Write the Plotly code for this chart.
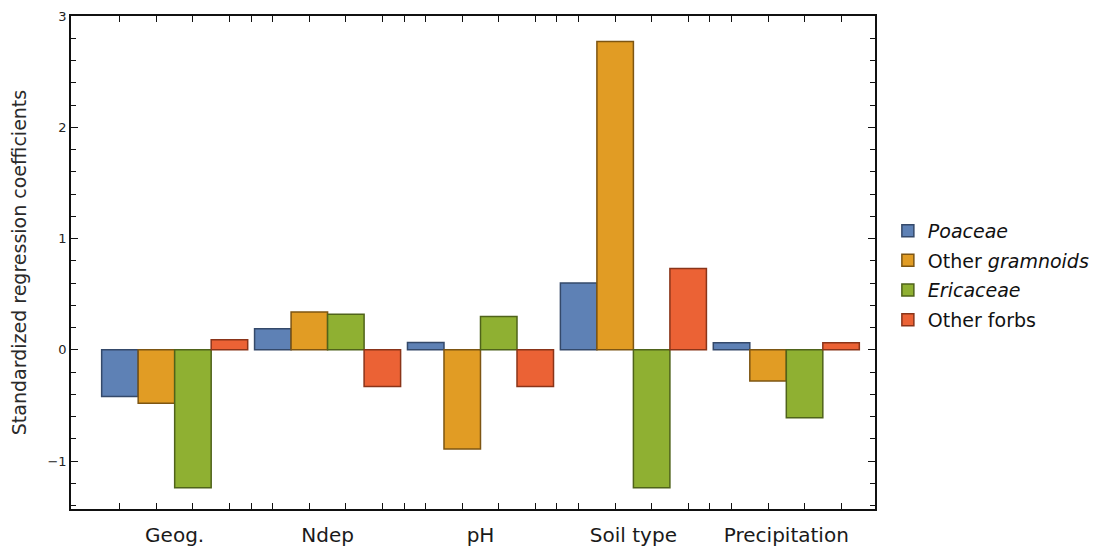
import plotly.graph_objects as go

categories = ["Geog.", "Ndep", "pH", "Soil type", "Precipitation"]
poaceae = [-0.42, 0.19, 0.066, 0.60, 0.063]
other_graminoids = [-0.48, 0.34, -0.89, 2.77, -0.28]
ericaceae = [-1.24, 0.32, 0.30, -1.24, -0.61]
other_forbs = [0.09, -0.33, -0.33, 0.73, 0.063]

series_names = ["<i>Poaceae</i>", "Other <i>gramnoids</i>", "<i>Ericaceae</i>", "Other forbs"]
series_values = [poaceae, other_graminoids, ericaceae, other_forbs]
fill_colors = ["#5E81B5", "#E19C24", "#8FB032", "#EB6235"]
edge_colors = ["#34496a", "#7d5512", "#4f631a", "#8a3419"]

bargap = 0.045
font_family = "DejaVu Sans, Liberation Sans, Arial, sans-serif"

fig = go.Figure()
for i, (name, vals) in enumerate(zip(series_names, series_values)):
    fig.add_trace(go.Bar(
        x=categories, y=vals, name=name,
        marker=dict(color=fill_colors[i], line=dict(color=edge_colors[i], width=1.5)),
        legendgroup=f"g{i}",
    ))

# tick positions for the overlay axis: bar centres and group boundaries
n_series = len(series_values)
w = (1 - bargap) / n_series
tickpos = []
for g in range(len(categories)):
    for k in range(n_series):
        tickpos.append(g + (k - (n_series - 1) / 2) * w)
    if g < len(categories) - 1:
        tickpos.append(g + 0.5)

fig.add_trace(go.Scatter(x=[None], y=[None], xaxis="x2", showlegend=False, hoverinfo="skip"))

xrange = [-0.678, 4.58]

fig.update_layout(
    width=1091, height=542,
    margin=dict(l=63, r=224, t=8, b=41, autoexpand=False),
    plot_bgcolor="white", paper_bgcolor="white",
    barmode="group", bargap=bargap, bargroupgap=0,
    font=dict(family=font_family, color="#222"),
    xaxis=dict(
        type="category", range=xrange, automargin=False,
        showline=True, mirror=True, linecolor="#111", linewidth=1.5,
        ticks="", showgrid=False, zeroline=False,
        tickfont=dict(size=20, color="#1a1a1a"),
        ticklabelstandoff=7,
    ),
    xaxis2=dict(
        type="linear", overlaying="x", side="bottom", range=xrange, automargin=False,
        tickvals=tickpos, showticklabels=False,
        ticks="inside", ticklen=6, tickwidth=1.2, tickcolor="#111",
        mirror="ticks", showline=False, showgrid=False, zeroline=False,
    ),
    yaxis=dict(
        range=[-1.43, 3.0], automargin=False,
        tickvals=[-1, 0, 1, 2, 3], ticktext=["\u22121", "0", "1", "2", "3"],
        ticks="inside", ticklen=7, tickwidth=1.2, tickcolor="#111",
        minor=dict(dtick=0.2, tick0=0, ticks="inside", ticklen=5, tickcolor="#111", tickwidth=1.2),
        showline=True, mirror="ticks", linecolor="#111", linewidth=1.5,
        showgrid=False, zeroline=False,
        tickfont=dict(size=13, color="#222"),
        title=dict(text="Standardized regression coefficients", font=dict(size=19, color="#2a2a2a"), standoff=18),
    ),
    legend=dict(
        x=1.016, y=0.474, xanchor="left", yanchor="middle",
        font=dict(size=19, color="#111"),
        tracegroupgap=2, itemclick=False,
    ),
    showlegend=True,
)

fig.write_html("out.html")
